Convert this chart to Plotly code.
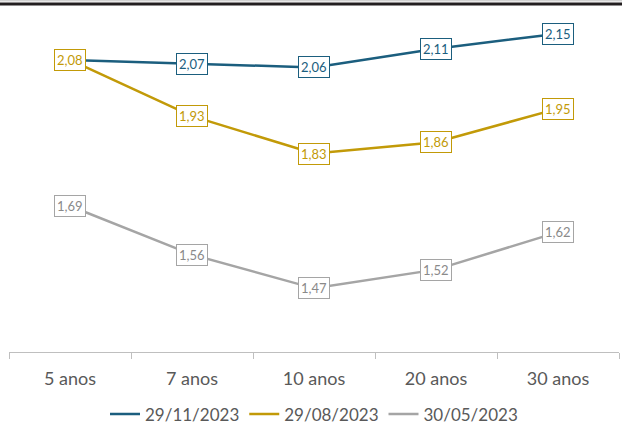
import plotly.graph_objects as go

categories = ["5 anos", "7 anos", "10 anos", "20 anos", "30 anos"]
series_names = ["29/11/2023", "29/08/2023", "30/05/2023"]
s_nov = [2.08, 2.07, 2.06, 2.11, 2.15]
s_aug = [2.08, 1.93, 1.83, 1.86, 1.95]
s_may = [1.69, 1.56, 1.47, 1.52, 1.62]
colors = ["#1B5E7E", "#C29A08", "#A5A5A5"]
label_text_colors = ["#1B5E7E", "#C29A08", "#8A8A8A"]

FONT = "Lato, Carlito, Calibri, sans-serif"

fig = go.Figure()
all_series = [s_nov, s_aug, s_may]
for name, vals, col in zip(series_names, all_series, colors):
    fig.add_trace(go.Scatter(x=categories, y=vals, mode="lines", name=name,
                             line=dict(color=col, width=2.5)))

for idx in [2, 0, 1]:
    vals = all_series[idx]
    col = colors[idx]
    for i, (c, v) in enumerate(zip(categories, vals)):
        if idx == 0 and i == 0:
            continue
        fig.add_annotation(x=c, y=v, xref="x", yref="y",
                           text=f"{v:.2f}".replace(".", ","),
                           showarrow=False, bgcolor="white", bordercolor=col,
                           borderwidth=1, borderpad=2,
                           font=dict(family=FONT, size=13, color=label_text_colors[idx]))

fig.add_shape(type="line", xref="paper", yref="paper", x0=-0.02, x1=1.01,
              y0=1.033, y1=1.033, line=dict(color="#231F20", width=3))
fig.add_shape(type="line", xref="paper", yref="paper", x0=-0.02, x1=1.01,
              y0=1.042, y1=1.042, line=dict(color="#BBBBBB", width=1))

fig.update_layout(
    width=622, height=430,
    margin=dict(l=9, r=3, t=15, b=78, autoexpand=False),
    paper_bgcolor="white", plot_bgcolor="white",
    showlegend=True,
    legend=dict(orientation="h", x=0.5, xanchor="center", y=-0.132, yanchor="top",
                font=dict(family=FONT, size=17, color="#595959"),
                itemwidth=30, tracegroupgap=0),
    font=dict(family=FONT),
)
fig.update_xaxes(type="category", range=[-0.5, 4.5], showline=True, linecolor="#BFBFBF",
                 linewidth=1, ticks="outside", tickson="boundaries", ticklen=6,
                 tickcolor="#BFBFBF", showgrid=False, ticklabelstandoff=10,
                 automargin=False,
                 tickfont=dict(family=FONT, size=18, color="#595959"))
fig.update_yaxes(range=[1.3, 2.2], visible=False, showgrid=False, zeroline=False)

fig.write_html("out.html")
